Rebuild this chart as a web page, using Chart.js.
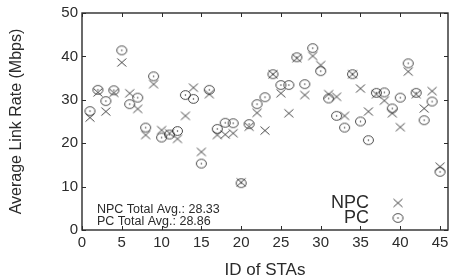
<!DOCTYPE html>
<html>
<head>
<meta charset="utf-8">
<script src="https://cdn.jsdelivr.net/npm/chart.js@4.4.0/dist/chart.umd.min.js"></script>
<style>
  html, body { margin: 0; padding: 0; background: #fff; }
  #wrap { width: 458px; height: 279px; }
</style>
</head>
<body>
<div id="wrap"><canvas id="rateChart"></canvas></div>
<script>
// --- DATA ---
const staIds = [1, 2, 3, 4, 5, 6, 7, 8, 9, 10, 11, 12, 13, 14, 15, 16, 17, 18, 19, 20, 21, 22, 23,
                24, 25, 26, 27, 28, 29, 30, 31, 32, 33, 34, 35, 36, 37, 38, 39, 40, 41, 42, 43, 44, 45];
const npcRates = [25.9, 31.7, 27.3, 31.6, 38.6, 31.5, 27.9, 21.9, 33.6, 23.0, 22.3, 21.0, 26.3, 32.8, 18.0,
                  31.3, 21.9, 22.0, 22.3, 11.0, 23.8, 27.0, 22.9, 35.9, 31.5, 26.9, 39.6, 31.1, 40.1, 38.0,
                  31.3, 30.7, 26.3, 35.9, 32.6, 27.3, 31.3, 29.8, 26.9, 23.7, 36.5, 31.3, 28.0, 32.0, 14.6];
const pcRates = [27.4, 32.3, 29.7, 32.2, 41.4, 29.0, 30.5, 23.6, 35.4, 21.3, 22.0, 22.8, 31.1, 30.2, 15.3,
                 32.3, 23.3, 24.7, 24.6, 10.8, 24.4, 29.0, 30.6, 35.9, 33.4, 33.4, 39.8, 33.6, 41.9, 36.6,
                 30.3, 26.3, 23.6, 35.9, 25.0, 20.7, 31.6, 31.7, 28.0, 30.5, 38.4, 31.6, 25.3, 29.6, 13.4];
const xTicks = [0, 5, 10, 15, 20, 25, 30, 35, 40, 45];
const yTicks = [0, 10, 20, 30, 40, 50];
const seriesNames = ['NPC', 'PC'];
const avgLines = ['NPC Total Avg.: 28.33', 'PC Total Avg.: 28.86'];

const ink = '#2b2b2b';
const markInk = '#333';
const sans = "'Liberation Sans', Arial, sans-serif";
const tickFont = { family: sans, size: 15 };

// marker images (x and circle with a dot), slightly wider than tall like the original
function makeCross() {
    const c = document.createElement('canvas');
    c.width = 12; c.height = 11;
    const g = c.getContext('2d');
    g.strokeStyle = markInk; g.lineWidth = 0.9;
    g.beginPath();
    g.moveTo(1.5, 1.5); g.lineTo(10.5, 9.5);
    g.moveTo(10.5, 1.5); g.lineTo(1.5, 9.5);
    g.stroke();
    return c;
}
function makeCircle() {
    const c = document.createElement('canvas');
    c.width = 13; c.height = 12;
    const g = c.getContext('2d');
    g.strokeStyle = markInk; g.fillStyle = markInk; g.lineWidth = 0.9;
    g.beginPath();
    g.ellipse(6.5, 6, 5, 4.4, 0, 0, Math.PI * 2);
    g.stroke();
    g.beginPath();
    g.arc(6.5, 6, 0.75, 0, Math.PI * 2);
    g.fill();
    return c;
}
const crossImg = makeCross();
const circleImg = makeCircle();

// MATLAB style box + inward ticks + text inside the axes
const matlabBox = {
    id: 'matlabBox',
    afterDatasetsDraw(chart) {
        const ctx = chart.ctx;
        const a = chart.chartArea;
        const xs = chart.scales.x, ys = chart.scales.y;
        ctx.save();
        ctx.strokeStyle = ink;
        ctx.lineWidth = 1.4;
        ctx.strokeRect(a.left, a.top, a.right - a.left, a.bottom - a.top);
        ctx.lineWidth = 1;
        ctx.beginPath();
        xTicks.forEach(v => {
            const px = Math.round(xs.getPixelForValue(v)) + 0.5;
            ctx.moveTo(px, a.bottom); ctx.lineTo(px, a.bottom - 4);
            ctx.moveTo(px, a.top); ctx.lineTo(px, a.top + 4);
        });
        yTicks.forEach(v => {
            const py = Math.round(ys.getPixelForValue(v)) + 0.5;
            ctx.moveTo(a.left, py); ctx.lineTo(a.left + 4, py);
            ctx.moveTo(a.right, py); ctx.lineTo(a.right - 4, py);
        });
        ctx.stroke();

        // averages, bottom left
        ctx.fillStyle = ink;
        ctx.font = "12.5px " + sans;
        ctx.textAlign = 'left';
        ctx.textBaseline = 'alphabetic';
        ctx.fillText(avgLines[0], a.left + 15, a.bottom - 17);
        ctx.fillText(avgLines[1], a.left + 15, a.bottom - 5);

        // legend, bottom right (text then marker)
        ctx.font = "18px " + sans;
        ctx.textAlign = 'right';
        ctx.fillText(seriesNames[0], a.right - 79, a.bottom - 22);
        ctx.fillText(seriesNames[1], a.right - 79, a.bottom - 7);
        ctx.drawImage(crossImg, a.right - 50 - crossImg.width / 2, a.bottom - 27 - crossImg.height / 2);
        ctx.drawImage(circleImg, a.right - 50 - circleImg.width / 2, a.bottom - 12 - circleImg.height / 2);
        ctx.restore();
    }
};

new Chart(document.getElementById('rateChart'), {
    type: 'scatter',
    data: {
        datasets: [{
            label: seriesNames[0],
            data: staIds.map((id, i) => ({ x: id, y: npcRates[i] })),
            pointStyle: crossImg,
            pointRadius: 5
        }, {
            label: seriesNames[1],
            data: staIds.map((id, i) => ({ x: id, y: pcRates[i] })),
            pointStyle: circleImg,
            pointRadius: 5
        }]
    },
    options: {
        responsive: true,
        maintainAspectRatio: false,
        animation: false,
        layout: { padding: { top: 13, right: 10, left: 0, bottom: 0 } },
        plugins: {
            legend: { display: false },
            tooltip: { enabled: false }
        },
        scales: {
            x: {
                type: 'linear',
                min: 0,
                max: 46,
                afterBuildTicks: s => { s.ticks = xTicks.map(v => ({ value: v })); },
                afterFit: s => { s.height = 49; },
                grid: { display: false, drawTicks: false },
                border: { display: false },
                ticks: { color: ink, font: tickFont, padding: 4, maxRotation: 0 },
                title: {
                    display: true,
                    text: 'ID of STAs',
                    color: ink,
                    font: { family: sans, size: 17 },
                    padding: { top: 0, bottom: -2 }
                }
            },
            y: {
                min: 0,
                max: 50,
                afterBuildTicks: s => { s.ticks = yTicks.map(v => ({ value: v })); },
                afterFit: s => { s.width = 82; },
                grid: { display: false, drawTicks: false },
                border: { display: false },
                ticks: { color: ink, font: tickFont, padding: 4 },
                title: {
                    display: true,
                    text: 'Average Link Rate (Mbps)',
                    color: ink,
                    font: { family: sans, size: 16 },
                    padding: { top: 7, bottom: 0 }
                }
            }
        }
    },
    plugins: [matlabBox]
});
</script>
</body>
</html>
